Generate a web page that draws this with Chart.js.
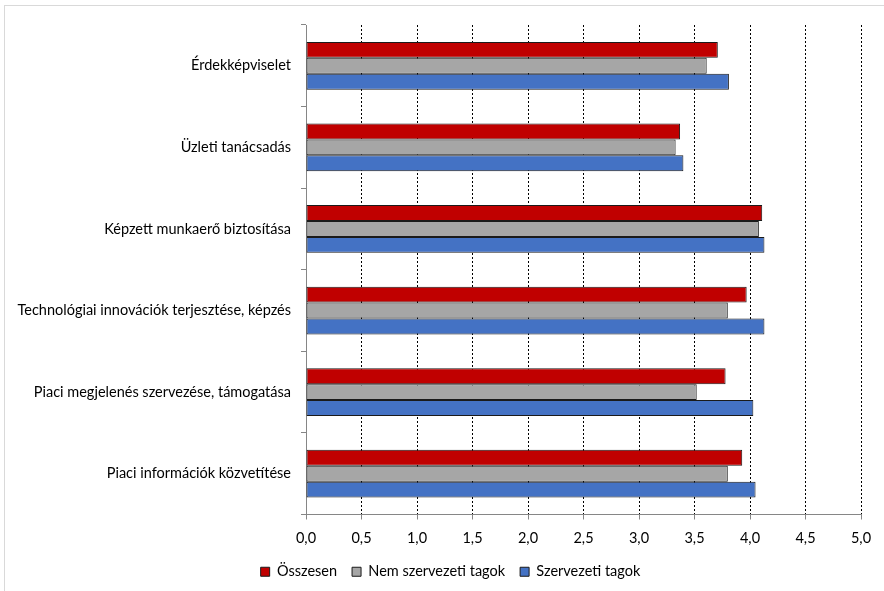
<!DOCTYPE html>
<html>
<head>
<meta charset="utf-8">
<script src="https://cdn.jsdelivr.net/npm/chart.js@4"></script>
<style>
  html, body { margin: 0; padding: 0; background: #fff; }
  #wrap { position: relative; width: 884px; height: 591px; }
  #frame { position: absolute; left: 4px; top: 5px; right: -2px; bottom: -2px; border: 1px solid #d9d9d9; }
  canvas { position: absolute; left: 0; top: 0; }
</style>
</head>
<body>
<div id="wrap">
  <div id="frame"></div>
  <canvas id="chart" width="884" height="591"></canvas>
</div>
<script>
// categories (top to bottom)
const categories = [
  'Érdekképviselet',
  'Üzleti tanácsadás',
  'Képzett munkaerő biztosítása',
  'Technológiai innovációk terjesztése, képzés',
  'Piaci megjelenés szervezése, támogatása',
  'Piaci információk közvetítése'
];
const seriesNames = ['Összesen', 'Nem szervezeti tagok', 'Szervezeti tagok'];
const osszesen = [3.71, 3.37, 4.11, 3.97, 3.78, 3.93];
const nemTagok = [3.61, 3.33, 4.08, 3.80, 3.52, 3.80];
const tagok    = [3.81, 3.40, 4.13, 4.13, 4.03, 4.05];
const xTicks = [0, 0.5, 1, 1.5, 2, 2.5, 3, 3.5, 4, 4.5, 5];

const seriesColors = ['#c00000', '#a6a6a6', '#4472c4'];
const FONT = 'Lato, "Open Sans", sans-serif';
const FSIZE = 14.5;
const axisGray = '#868686';

const data = {
  labels: categories,
  datasets: [osszesen, nemTagok, tagok].map((vals, i) => ({
    label: seriesNames[i],
    data: vals,
    backgroundColor: seriesColors[i],
    borderColor: '#1a1a1a',
    borderWidth: 1,
    borderSkipped: false,
    categoryPercentage: 0.585,
    barPercentage: 1.0
  }))
};

// nudge the legend to the right, like the original
const legendShift = {
  id: 'legendShift',
  afterLayout(chart) {
    chart.legend.left += 20;
    chart.legend.right += 20;
  }
};

const config = {
  type: 'bar',
  data: data,
  plugins: [legendShift],
  options: {
    indexAxis: 'y',
    responsive: false,
    animation: { duration: 0 },
    layout: { padding: { top: 25, right: 23, left: 0, bottom: 2 } },
    plugins: {
      tooltip: { enabled: false },
      legend: {
        position: 'bottom',
        labels: {
          boxWidth: 9,
          boxHeight: 9,
          padding: 15,
          color: '#000',
          font: { family: FONT, size: FSIZE }
        }
      }
    },
    scales: {
      x: {
        type: 'linear',
        min: 0,
        max: 5,
        afterBuildTicks: (scale) => { scale.ticks = xTicks.map(v => ({ value: v })); },
        afterFit: (scale) => { scale.height = 35; },
        ticks: {
          color: '#000',
          padding: 10,
          font: { family: FONT, size: FSIZE },
          callback: (v) => Number(v).toFixed(1).replace('.', ',')
        },
        grid: {
          color: (ctx) => ctx.tick && ctx.tick.value === 0 ? 'rgba(0,0,0,0)' : '#000',
          lineWidth: 1,
          tickColor: axisGray,
          tickLength: 5,
          tickBorderDash: []
        },
        border: { color: axisGray, width: 1, dash: [2, 2] }
      },
      y: {
        afterFit: (scale) => { scale.width = 306; },
        ticks: {
          color: '#000',
          padding: 10,
          font: { family: FONT, size: FSIZE }
        },
        grid: {
          offset: true,
          drawOnChartArea: false,
          tickColor: axisGray,
          tickLength: 5
        },
        border: { color: axisGray, width: 1 }
      }
    }
  }
};

const chart = new Chart(document.getElementById('chart'), config);
</script>
</body>
</html>
